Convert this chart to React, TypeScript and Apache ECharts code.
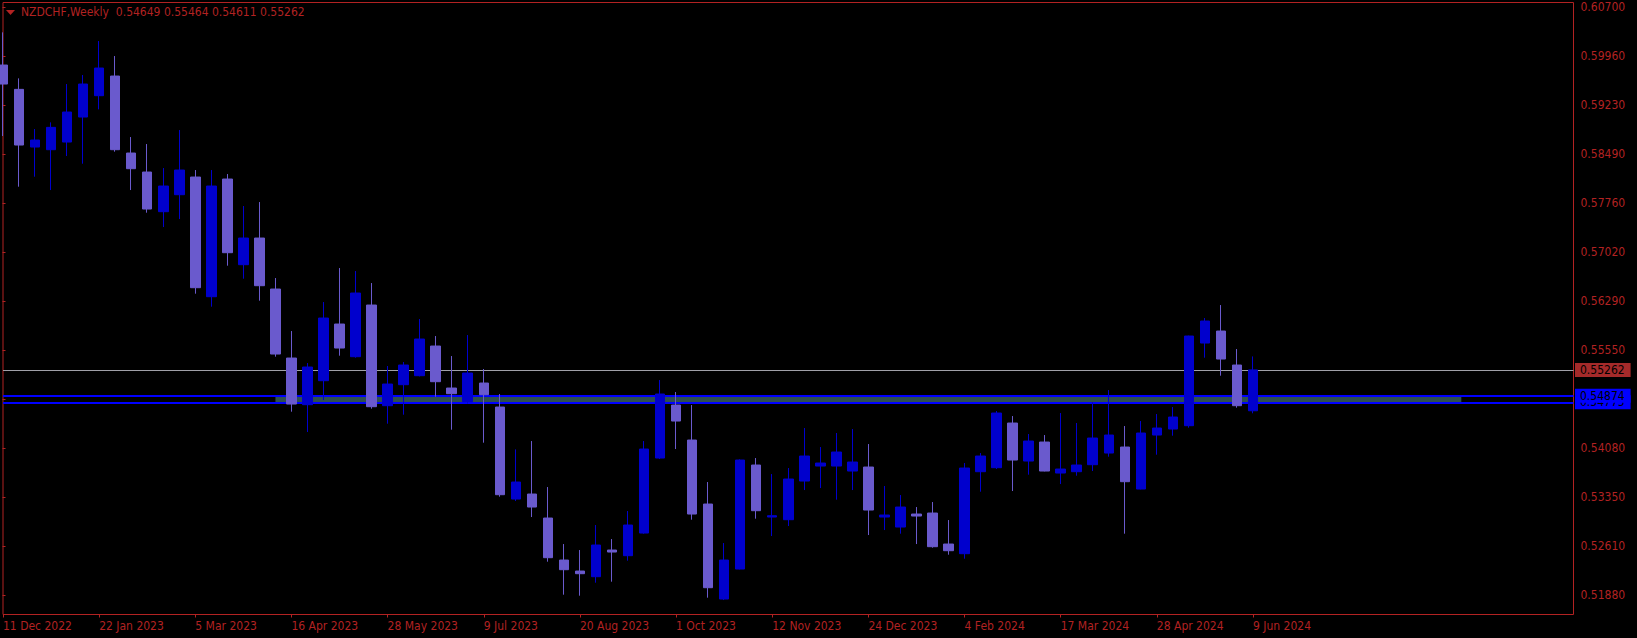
import React, { useEffect, useRef } from 'react';
import * as echarts from 'echarts';

// Weekly bars (week start dates)
const weeks: string[] = [
  '2022-12-11', '2022-12-18', '2022-12-25', '2023-01-01', '2023-01-08', '2023-01-15',
  '2023-01-22', '2023-01-29', '2023-02-05', '2023-02-12', '2023-02-19', '2023-02-26',
  '2023-03-05', '2023-03-12', '2023-03-19', '2023-03-26', '2023-04-02', '2023-04-09',
  '2023-04-16', '2023-04-23', '2023-04-30', '2023-05-07', '2023-05-14', '2023-05-21',
  '2023-05-28', '2023-06-04', '2023-06-11', '2023-06-18', '2023-06-25', '2023-07-02',
  '2023-07-09', '2023-07-16', '2023-07-23', '2023-07-30', '2023-08-06', '2023-08-13',
  '2023-08-20', '2023-08-27', '2023-09-03', '2023-09-10', '2023-09-17', '2023-09-24',
  '2023-10-01', '2023-10-08', '2023-10-15', '2023-10-22', '2023-10-29', '2023-11-05',
  '2023-11-12', '2023-11-19', '2023-11-26', '2023-12-03', '2023-12-10', '2023-12-17',
  '2023-12-24', '2023-12-31', '2024-01-07', '2024-01-14', '2024-01-21', '2024-01-28',
  '2024-02-04', '2024-02-11', '2024-02-18', '2024-02-25', '2024-03-03', '2024-03-10',
  '2024-03-17', '2024-03-24', '2024-03-31', '2024-04-07', '2024-04-14', '2024-04-21',
  '2024-04-28', '2024-05-05', '2024-05-12', '2024-05-19', '2024-05-26', '2024-06-02',
  '2024-06-09',
];

// empty future weeks (chart shift area)
const futureWeeks: string[] = [
  '2024-06-16', '2024-06-23', '2024-06-30', '2024-07-07', '2024-07-14', '2024-07-21',
  '2024-07-28', '2024-08-04', '2024-08-11', '2024-08-18', '2024-08-25', '2024-09-01',
  '2024-09-08', '2024-09-15', '2024-09-22', '2024-09-29', '2024-10-06', '2024-10-13',
  '2024-10-20', '2024-10-27',
];

const opens: number[] = [
  0.59835, 0.59470, 0.58605, 0.58565, 0.58680, 0.59055, 0.59375, 0.59670, 0.58515, 0.58230,
  0.57635, 0.57890, 0.58155, 0.56360, 0.58125, 0.56840, 0.57240, 0.56475, 0.55440, 0.54740,
  0.55100, 0.55950, 0.55460, 0.56235, 0.54725, 0.55040, 0.55175, 0.55620, 0.54990, 0.54785,
  0.55065, 0.54705, 0.53325, 0.53400, 0.53040, 0.52410, 0.52245, 0.52160, 0.52560, 0.52475,
  0.52815, 0.53940, 0.54735, 0.54210, 0.53250, 0.51825, 0.52275, 0.53835, 0.53055, 0.53015,
  0.53595, 0.53820, 0.53820, 0.53745, 0.53805, 0.53055, 0.52905, 0.53100, 0.53115, 0.52650,
  0.52505, 0.53735, 0.53795, 0.54465, 0.53895, 0.54180, 0.53715, 0.53735, 0.53840, 0.54015,
  0.54105, 0.53475, 0.54285, 0.54375, 0.54425, 0.55665, 0.55845, 0.55335, 0.54649,
];
const highs: number[] = [
  0.60325, 0.59635, 0.58875, 0.58975, 0.59550, 0.59685, 0.60195, 0.59970, 0.58755, 0.58650,
  0.58290, 0.58860, 0.58260, 0.58260, 0.58200, 0.57720, 0.57780, 0.56640, 0.55845, 0.55365,
  0.56280, 0.56790, 0.56745, 0.56565, 0.55320, 0.55380, 0.56025, 0.55770, 0.55470, 0.55785,
  0.55275, 0.54900, 0.54070, 0.54195, 0.53505, 0.52650, 0.52560, 0.52935, 0.52725, 0.53145,
  0.54195, 0.55110, 0.54930, 0.54735, 0.53580, 0.52665, 0.53920, 0.53940, 0.53700, 0.53790,
  0.54390, 0.54105, 0.54315, 0.54375, 0.54150, 0.53520, 0.53385, 0.53205, 0.53280, 0.53010,
  0.53865, 0.54015, 0.54645, 0.54570, 0.54300, 0.54285, 0.54615, 0.54465, 0.54780, 0.54960,
  0.54420, 0.54495, 0.54600, 0.54705, 0.55775, 0.56040, 0.56235, 0.55575, 0.55464,
];
const lows: number[] = [
  0.58770, 0.58010, 0.58160, 0.57960, 0.58470, 0.58355, 0.59170, 0.58535, 0.57960, 0.57620,
  0.57405, 0.57525, 0.56405, 0.56210, 0.56825, 0.56630, 0.56300, 0.55460, 0.54635, 0.54330,
  0.54810, 0.55475, 0.55445, 0.54680, 0.54455, 0.54590, 0.55165, 0.54860, 0.54365, 0.54755,
  0.54170, 0.53360, 0.53295, 0.53055, 0.52385, 0.51890, 0.51875, 0.52070, 0.52085, 0.52400,
  0.52805, 0.53925, 0.54075, 0.53015, 0.51845, 0.51810, 0.52270, 0.53030, 0.52770, 0.52920,
  0.53460, 0.53490, 0.53315, 0.53460, 0.52785, 0.52860, 0.52805, 0.52650, 0.52595, 0.52490,
  0.52430, 0.53435, 0.53775, 0.53445, 0.53690, 0.53740, 0.53550, 0.53675, 0.53745, 0.53960,
  0.52805, 0.53470, 0.53990, 0.54275, 0.54395, 0.55445, 0.55175, 0.54695, 0.54611,
];
const closes: number[] = [
  0.59550, 0.58635, 0.58710, 0.58900, 0.59130, 0.59550, 0.59790, 0.58565, 0.58280, 0.57675,
  0.58020, 0.58260, 0.56495, 0.58020, 0.57020, 0.57240, 0.56525, 0.55500, 0.54750, 0.55305,
  0.56040, 0.55590, 0.56415, 0.54710, 0.55050, 0.55335, 0.55725, 0.55085, 0.54905, 0.55215,
  0.54890, 0.53390, 0.53580, 0.53205, 0.52445, 0.52265, 0.52205, 0.52635, 0.52530, 0.52935,
  0.54075, 0.54900, 0.54495, 0.53100, 0.51995, 0.52410, 0.53910, 0.53150, 0.53075, 0.53625,
  0.53970, 0.53865, 0.54030, 0.53880, 0.53160, 0.53085, 0.53205, 0.53070, 0.52610, 0.52550,
  0.53790, 0.53970, 0.54615, 0.53910, 0.54195, 0.53745, 0.53775, 0.53835, 0.54240, 0.54285,
  0.53585, 0.54315, 0.54390, 0.54555, 0.55770, 0.55995, 0.55425, 0.54725, 0.55262,
];

// price scale tick labels (bottom to top), one hidden behind the level labels
const yTickLabels: string[] = [
  '0.51880', '0.52610', '0.53350', '0.54080', '', '0.55550', '0.56290',
  '0.57020', '0.57760', '0.58490', '0.59230', '0.59960', '0.60700',
];

const symbolName = 'NZDCHF,Weekly';
const bidPrice = 0.55262;
const zoneTop = 0.54874;
const zoneBottom = 0.54775;
const zoneStart = '2023-04-09';
const zoneEnd = '2024-09-08';

const RED = '#b22222';
const BULL = '#0000cd';
const BEAR = '#6a5acd';
const FONT = '"DejaVu Sans Condensed", "Liberation Sans Narrow", "DejaVu Sans", sans-serif';
const MONTHS = ['Jan', 'Feb', 'Mar', 'Apr', 'May', 'Jun', 'Jul', 'Aug', 'Sep', 'Oct', 'Nov', 'Dec'];

function fmtDate(s: string): string {
  const [y, m, d] = s.split('-');
  return `${parseInt(d, 10)} ${MONTHS[parseInt(m, 10) - 1]} ${y}`;
}

export default function App() {
  const ref = useRef<HTMLDivElement>(null);

  useEffect(() => {
    if (!ref.current) return;
    const chart = echarts.init(ref.current, undefined, { renderer: 'svg' });
    const allWeeks = weeks.concat(futureWeeks);
    const data = weeks.map((_, i) => [opens[i], closes[i], lows[i], highs[i]]);
    const last = weeks.length - 1;
    const title = `${symbolName}  ${opens[last].toFixed(5)} ${highs[last].toFixed(5)} ${lows[last].toFixed(5)} ${closes[last].toFixed(5)}`;
    const showIdx = (index: number) => index < weeks.length && index % 6 === 0;

    const levelLabel = (val: number, bg: string) => ({
      show: true,
      position: 'end',
      formatter: val.toFixed(5),
      backgroundColor: bg,
      color: '#000',
      padding: [1, 6, 1, 5],
      fontSize: 12,
      lineHeight: 12,
      fontFamily: FONT,
      distance: 1.5,
    });

    chart.setOption({
      animation: false,
      backgroundColor: '#000',
      title: {
        text: title,
        left: 21,
        top: 6,
        padding: 0,
        textStyle: { color: RED, fontSize: 12, fontWeight: 'normal', fontFamily: FONT },
      },
      graphic: [
        {
          type: 'polygon',
          shape: { points: [[6, 10], [15, 10], [10.5, 15]] },
          style: { fill: RED },
        },
      ],
      grid: [
        { left: 2.5, right: 63.5, top: 2.5, bottom: 23.5, show: true, borderColor: RED, borderWidth: 1, backgroundColor: 'transparent' },
        { left: 2.5, right: 63.5, top: 7.4, bottom: 42.6, show: false },
      ],
      xAxis: [
        {
          type: 'category',
          gridIndex: 0,
          data: allWeeks,
          boundaryGap: false,
          axisLine: { show: false },
          axisTick: { show: true, interval: showIdx, length: 3, lineStyle: { color: RED } },
          axisLabel: {
            interval: showIdx,
            formatter: (v: string) => fmtDate(v),
            color: RED,
            fontSize: 12,
            fontFamily: FONT,
            align: 'left',
            margin: 5,
          },
          splitLine: { show: false },
        },
        { type: 'value', gridIndex: 1, show: false, min: 0, max: 1 },
      ],
      yAxis: [
        { type: 'value', gridIndex: 0, min: 0.51593, max: 0.60773, show: false, splitLine: { show: false } },
        {
          type: 'value',
          gridIndex: 1,
          position: 'right',
          min: 0,
          max: 12,
          interval: 1,
          axisLine: { show: false },
          axisTick: { show: true, length: 3, lineStyle: { color: RED } },
          axisLabel: {
            formatter: (v: number) => yTickLabels[Math.round(v)] || '',
            color: RED,
            fontSize: 12,
            fontFamily: FONT,
            margin: 7,
          },
          splitLine: { show: false },
        },
      ],
      series: [
        {
          type: 'line',
          name: 'levels',
          xAxisIndex: 0,
          yAxisIndex: 0,
          data: [],
          z: 1,
          silent: true,
          markArea: {
            silent: true,
            itemStyle: { color: '#2f4f4f' },
            data: [[{ xAxis: zoneStart, yAxis: zoneTop }, { xAxis: zoneEnd, yAxis: zoneBottom }]],
          },
          markLine: {
            silent: true,
            precision: 5,
            symbol: ['none', 'none'],
            data: [
              { yAxis: zoneBottom, lineStyle: { color: '#0000ff', width: 2, type: 'solid' }, label: levelLabel(zoneBottom, '#0000ff') },
              { yAxis: zoneTop, lineStyle: { color: '#0000ff', width: 2, type: 'solid' }, label: levelLabel(zoneTop, '#0000ff') },
              { yAxis: bidPrice, lineStyle: { color: '#a0a0a8', width: 1, type: 'solid' }, label: levelLabel(bidPrice, '#a52a2a') },
            ],
          },
        },
        {
          type: 'candlestick',
          xAxisIndex: 0,
          yAxisIndex: 0,
          data,
          barWidth: 10,
          clip: true,
          z: 10,
          itemStyle: {
            color: BULL,
            color0: BEAR,
            borderColor: BULL,
            borderColor0: BEAR,
            borderWidth: 1,
          },
        },
      ],
    });
    return () => chart.dispose();
  }, []);

  return <div ref={ref} style={{ position: 'fixed', left: 0, top: 0, width: 1637, height: 638 }} />;
}
